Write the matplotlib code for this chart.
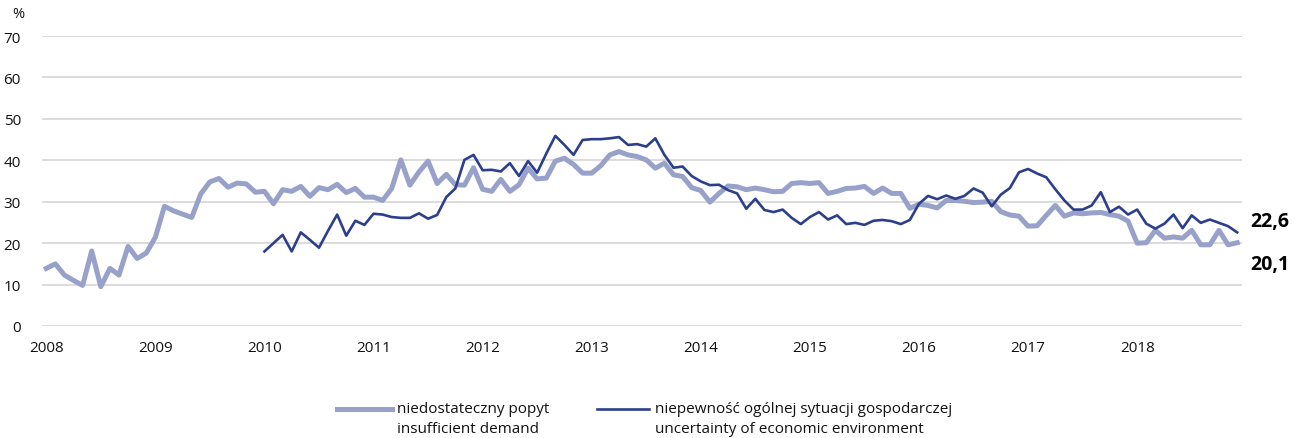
import numpy as np
import matplotlib
matplotlib.use("Agg")
import matplotlib.pyplot as plt
from matplotlib.lines import Line2D

plt.rcParams['font.family'] = ['Open Sans', 'DejaVu Sans']

# ── data: monthly shares, Jan 2008 - Dec 2018 ─────────────────────────────────

years = list(range(2008, 2019))

demand = [
    13.9, 15.0, 12.3, 11.0, 9.8, 18.1, 9.5, 13.9, 12.3, 19.2, 16.3, 17.6,    # 2008
    21.4, 28.9, 27.8, 27.0, 26.2, 31.9, 34.8, 35.6, 33.5, 34.5, 34.3, 32.3,  # 2009
    32.5, 29.5, 32.9, 32.5, 33.7, 31.3, 33.4, 32.9, 34.2, 32.2, 33.2, 31.1,  # 2010
    31.1, 30.3, 33.2, 40.1, 34.0, 37.2, 39.8, 34.4, 36.6, 34.1, 34.0, 38.2,  # 2011
    33.0, 32.5, 35.4, 32.5, 34.1, 38.1, 35.5, 35.7, 39.8, 40.5, 39.0, 36.9,  # 2012
    36.9, 38.7, 41.3, 42.1, 41.3, 40.9, 40.1, 38.1, 39.3, 36.5, 36.1, 33.4,  # 2013
    32.7, 29.9, 32.0, 33.8, 33.6, 32.9, 33.3, 32.9, 32.4, 32.5, 34.4, 34.6,  # 2014
    34.4, 34.6, 32.0, 32.5, 33.2, 33.3, 33.7, 32.0, 33.3, 32.0, 32.0, 28.4,  # 2015
    29.4, 29.1, 28.5, 30.3, 30.3, 30.1, 29.8, 29.9, 30.1, 27.6, 26.8, 26.5,  # 2016
    24.1, 24.2, 26.7, 29.1, 26.5, 27.3, 27.1, 27.3, 27.4, 26.9, 26.5, 25.3,  # 2017
    20.0, 20.1, 23.1, 21.2, 21.5, 21.2, 23.1, 19.6, 19.6, 23.1, 19.6, 20.1,  # 2018
]

# uncertainty series starts in January 2010
uncertainty = [
    18.0, 20.0, 22.0, 18.0, 22.6, 20.8, 18.9, 23.0, 26.9, 21.8, 25.4, 24.4,  # 2010
    27.1, 26.9, 26.3, 26.1, 26.1, 27.2, 25.9, 26.8, 31.1, 33.2, 40.1, 41.3,  # 2011
    37.6, 37.7, 37.3, 39.3, 36.2, 39.8, 37.0, 41.6, 45.9, 43.7, 41.3, 44.9,  # 2012
    45.1, 45.1, 45.3, 45.6, 43.7, 43.9, 43.3, 45.3, 41.3, 38.2, 38.5, 36.2,  # 2013
    34.9, 34.0, 34.1, 32.8, 32.0, 28.3, 30.7, 28.0, 27.5, 28.1, 26.1, 24.6,  # 2014
    26.3, 27.5, 25.7, 26.7, 24.6, 24.9, 24.4, 25.4, 25.6, 25.3, 24.6, 25.6,  # 2015
    29.5, 31.4, 30.6, 31.5, 30.7, 31.4, 33.2, 32.2, 28.9, 31.7, 33.3, 37.1,  # 2016
    37.9, 36.8, 35.9, 33.0, 30.3, 28.1, 28.1, 29.1, 32.3, 27.5, 28.8, 26.9,  # 2017
    28.1, 24.7, 23.5, 24.7, 26.9, 23.6, 26.7, 24.9, 25.7, 24.9, 24.1, 22.6,  # 2018
]

labels = [("niedostateczny popyt", "insufficient demand"),
          ("niepewność ogólnej sytuacji gospodarczej", "uncertainty of economic environment")]

LIGHT = "#97a1c9"
DARK = "#2b3f8c"
GRID = "#d9d9d9"
TEXT = "#111111"

# mid-month positions on a fractional-year axis
t_demand = 2008 + (np.arange(len(demand)) + 0.5) / 12
t_unc = 2010 + (np.arange(len(uncertainty)) + 0.5) / 12

W, H = 1304, 439

# ── plot ──────────────────────────────────────────────────────────────────────

fig = plt.figure(figsize=(W / 100, H / 100), dpi=100)
ax = fig.add_axes([41.7 / W, 1 - 327 / H, 1200 / W, 290 / H])

ax.plot(t_demand, demand, color=LIGHT, lw=3.6, solid_joinstyle='round', zorder=3)
ax.plot(t_unc, uncertainty, color=DARK, lw=1.9, solid_joinstyle='round', zorder=4)

ax.set_xlim(2008, 2019)
ax.set_ylim(0, 70)
ax.set_yticks(range(0, 71, 10))
# year labels sit on the January point of each year
ax.set_xticks([y + 0.5 / 12 for y in years])
ax.set_xticklabels([str(y) for y in years])

ax.grid(axis='y', color=GRID, lw=1.3)
ax.grid(axis='x', visible=False)
ax.set_axisbelow(True)
for side in ['top', 'right', 'left', 'bottom']:
    ax.spines[side].set_visible(False)
ax.tick_params(axis='both', length=0, labelsize=11, colors=TEXT)
ax.tick_params(axis='y', pad=15)
ax.tick_params(axis='x', pad=10)

fig.text(12 / W, 1 - 15 / H, "%", fontsize=10.5, va='center', ha='left', color=TEXT)

# end-of-series value labels
fig.text(1289 / W, 1 - 222 / H, f"{uncertainty[-1]:.1f}".replace('.', ','),
         fontsize=14, fontweight='bold', ha='right', va='center')
fig.text(1289 / W, 1 - 265 / H, f"{demand[-1]:.1f}".replace('.', ','),
         fontsize=14, fontweight='bold', ha='right', va='center')

# legend below the plot, handle aligned with the first text line
for (x0, x1, xt), color, lw, (pl, en) in zip(
        [(337, 392, 397), (597, 649, 655)], [LIGHT, DARK], [3.6, 1.9], labels):
    fig.add_artist(Line2D([x0 / W, x1 / W], [1 - 410 / H] * 2, color=color, lw=lw,
                          transform=fig.transFigure))
    fig.text(xt / W, 1 - 410 / H, pl, fontsize=11, ha='left', va='center', color=TEXT)
    fig.text(xt / W, 1 - 430 / H, en, fontsize=11, ha='left', va='center', color=TEXT)

fig.savefig("out.png", dpi=100)
